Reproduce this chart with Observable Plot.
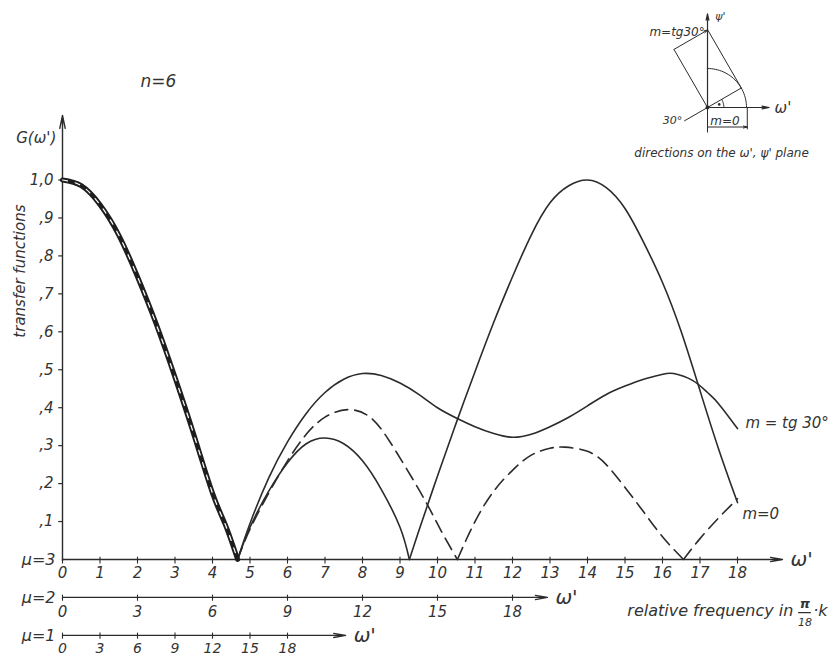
<!DOCTYPE html>
<html><head><meta charset="utf-8">
<script src="https://cdn.jsdelivr.net/npm/d3@7"></script>
<script src="https://cdn.jsdelivr.net/npm/@observablehq/plot@0.6"></script>
<style>
body{margin:0;background:#fff;}
#wrap{position:relative;width:835px;height:659px;overflow:hidden;background:#fff;}
#main,#inset{position:absolute;top:0;}
#main{left:0;}
#inset{left:600px;}
</style></head><body><div id="wrap"><div id="main"></div><div id="inset"></div></div>
<script>
// ---- data ----
// shared main lobe (all three transfer functions coincide here)
const mainW = [0, 0.5, 1, 1.5, 2, 2.5, 3, 3.5, 4, 4.35, 4.67];
const mainG = [1.0, 0.985, 0.935, 0.855, 0.745, 0.62, 0.48, 0.33, 0.175, 0.09, 0];
// m = 0 (solid)
const m0W = [4.67, 5.0, 5.5, 6.0, 6.5, 7.0, 7.5, 8.0, 8.5, 9.0, 9.25, 9.5, 10.0, 10.5, 11.0, 11.5, 12.0, 12.5, 13.0, 13.5, 14.0, 14.5, 15.0, 15.5, 16.0, 16.5, 17.0, 17.5, 18.0];
const m0G = [0, 0.085, 0.18, 0.255, 0.305, 0.32, 0.305, 0.26, 0.185, 0.085, 0, 0.075, 0.22, 0.36, 0.495, 0.625, 0.745, 0.855, 0.94, 0.985, 1.0, 0.98, 0.925, 0.835, 0.73, 0.6, 0.445, 0.29, 0.15];
// dashed curve
const dashW = [4.67, 5.0, 5.5, 6.0, 6.5, 7.0, 7.6, 8.2, 8.7, 9.2, 9.7, 10.1, 10.53, 11.0, 11.5, 12.0, 12.5, 13.0, 13.4, 14.0, 14.5, 15.0, 15.5, 16.0, 16.56, 17.0, 17.5, 18.0];
const dashG = [0, 0.08, 0.175, 0.26, 0.33, 0.375, 0.395, 0.375, 0.315, 0.235, 0.15, 0.075, 0, 0.1, 0.18, 0.235, 0.275, 0.293, 0.296, 0.285, 0.25, 0.19, 0.125, 0.06, 0, 0.055, 0.11, 0.16];
// m = tg 30° (solid)
const tgW = [4.67, 5.0, 5.5, 6.0, 6.5, 7.0, 7.5, 8.0, 8.5, 9.0, 9.5, 10.0, 10.5, 11.0, 11.5, 12.0, 12.5, 13.0, 13.5, 14.0, 14.5, 15.0, 15.5, 16.0, 16.3, 16.8, 17.2, 17.5, 18.0];
const tgG = [0, 0.095, 0.215, 0.31, 0.385, 0.44, 0.475, 0.49, 0.485, 0.465, 0.435, 0.40, 0.373, 0.35, 0.332, 0.322, 0.33, 0.35, 0.375, 0.405, 0.435, 0.457, 0.475, 0.488, 0.49, 0.472, 0.44, 0.41, 0.345];

// axes / tick labels
const yTicks = [0.1, 0.2, 0.3, 0.4, 0.5, 0.6, 0.7, 0.8, 0.9, 1.0];
const yTickLabels = [",1", ",2", ",3", ",4", ",5", ",6", ",7", ",8", ",9", "1,0"];
const mu3Ticks = [0,1,2,3,4,5,6,7,8,9,10,11,12,13,14,15,16,17,18];
const mu2Ticks = [0,3,6,9,12,15,18];
const mu1Ticks = [0,3,6,9,12,15,18];
const muLabels = ["μ=3", "μ=2", "μ=1"];
const muValues = [3, 2, 1];

// split a curve into lobes at its zeros, so each lobe is smooth and zeros stay sharp
function lobes(W, G) {
  const out = []; let seg = 0;
  W.forEach((w, i) => {
    out.push({w, G: G[i], seg});
    if (G[i] === 0 && i > 0 && i < W.length - 1) { seg++; out.push({w, G: G[i], seg}); }
  });
  return out;
}
const mainLobe = lobes(mainW, mainG);
const m0 = lobes(m0W, m0G);
const dashed = lobes(dashW, dashG);
const tg = lobes(tgW, tgG);

const INK = "#2b2b2b";
const FONT = "DejaVu Sans";
const txt = {fontFamily: FONT, fontStyle: "italic", fill: "#333", fontSize: 15};

// rows of the three frequency axes (below the plot in G units)
const rowY = mu => (mu - 3) * 0.1;
const axEnd = {3: 19.2, 2: 12.93, 1: 7.55};

const main = Plot.plot({
  width: 835, height: 659,
  marginLeft: 62, marginRight: 53, marginTop: 115, marginBottom: 100,
  x: {domain: [0, 19.2], axis: null},
  y: {domain: [0, 1.17], axis: null},
  style: {background: "#fff", overflow: "visible"},
  marks: [
    // vertical axis
    Plot.arrow([0], {x1: 0, x2: 0, y1: -0.003, y2: 1.17, stroke: INK, strokeWidth: 1.4, headLength: 14, headAngle: 24}),
    Plot.ruleY(yTicks, {x1: -0.1, x2: 0, stroke: INK, strokeWidth: 1.2}),
    Plot.text(yTicks, {x: 0, y: d => d, text: (d, i) => yTickLabels[i], dx: -9, textAnchor: "end", ...txt}),
    Plot.text(["G(ω')"], {x: -0.7, y: 1.11, ...txt, fontSize: 15}),
    Plot.text(["transfer functions"], {x: -1.12, y: 0.76, rotate: -90, ...txt, fontSize: 15}),
    Plot.text(["n=6"], {x: 2.56, y: 1.26, ...txt, fontSize: 17}),
    // horizontal frequency axes
    Plot.arrow(muValues, {x1: 0, x2: d => axEnd[d], y1: rowY, y2: rowY, stroke: INK, strokeWidth: 1.3, headLength: 14, headAngle: 20}),
    Plot.text(muValues, {x: 0, y: rowY, text: (d, i) => muLabels[i], dx: -7, textAnchor: "end", ...txt, fontSize: 16}),
    Plot.text(muValues, {x: d => axEnd[d], y: rowY, text: () => "ω'", dx: 8, textAnchor: "start", ...txt, fontSize: 20}),
    Plot.ruleX(mu3Ticks, {x: d => d, y1: -0.012, y2: 0.006, stroke: INK, strokeWidth: 1.1}),
    Plot.text(mu3Ticks, {x: d => d, y: 0, dy: 14, text: d => String(d), ...txt}),
    Plot.ruleX(mu2Ticks, {x: d => d * 2 / 3, y1: rowY(2) - 0.01, y2: rowY(2) + 0.006, stroke: INK, strokeWidth: 1.1}),
    Plot.text(mu2Ticks, {x: d => d * 2 / 3, y: rowY(2), dy: 15, text: d => String(d), ...txt}),
    Plot.ruleX(mu1Ticks, {x: d => d / 3, y1: rowY(1) - 0.01, y2: rowY(1) + 0.006, stroke: INK, strokeWidth: 1.1}),
    Plot.text(mu1Ticks, {x: d => d / 3, y: rowY(1), dy: 13, text: d => String(d), ...txt, fontSize: 14}),
    // axis title
    Plot.text(["relative frequency in"], {x: 19.49, y: -0.135, textAnchor: "end", ...txt, fontSize: 16}),
    Plot.text(["π"], {x: 19.8, y: -0.118, ...txt, fontSize: 13, fontWeight: "bold"}),
    Plot.ruleY([-0.14], {x1: 19.63, x2: 19.97, stroke: INK, strokeWidth: 1.2}),
    Plot.text(["18"], {x: 19.8, y: -0.165, ...txt, fontSize: 11}),
    Plot.text(["·k"], {x: 20.02, y: -0.135, textAnchor: "start", ...txt, fontSize: 16}),
    // curves
    Plot.line(m0, {x: "w", y: "G", z: "seg", stroke: INK, strokeWidth: 1.6, curve: "natural"}),
    Plot.line(tg, {x: "w", y: "G", z: "seg", stroke: INK, strokeWidth: 1.6, curve: "natural"}),
    Plot.line(dashed, {x: "w", y: "G", z: "seg", stroke: INK, strokeWidth: 1.6, strokeDasharray: "13,7", curve: "natural"}),
    Plot.line(mainLobe, {x: "w", y: "G", z: "seg", stroke: "#1e1e1e", strokeWidth: 5, curve: "natural"}),
    Plot.line(mainLobe, {x: "w", y: "G", z: "seg", stroke: "#fff", strokeWidth: 1.2, strokeDasharray: "5,8", curve: "natural"}),
    // curve labels
    Plot.text(["m = tg 30°"], {x: 18.21, y: 0.36, textAnchor: "start", ...txt, fontSize: 15}),
    Plot.text(["m=0"], {x: 18.13, y: 0.12, textAnchor: "start", ...txt, fontSize: 15})
  ]
});
document.getElementById("main").appendChild(main);

// ---- inset: directions on the ω', ψ' plane (unit = arc radius) ----
const angle = 30 * Math.PI / 180;
const c = Math.cos(angle), s = Math.sin(angle), L = 1.72;
const A = [c, s], C = [-s * L, c * L], B = [A[0] + C[0], A[1] + C[1]];
const arcPts = d3.range(0, 91, 3).map(a => ({x: Math.cos(a * Math.PI / 180), y: Math.sin(a * Math.PI / 180)}));
const smallArc = d3.range(0, 31, 3).map(a => ({x: 0.42 * Math.cos(a * Math.PI / 180), y: 0.42 * Math.sin(a * Math.PI / 180)}));
const segs = [
  {x1: -0.69 * c, y1: -0.69 * s, x2: A[0], y2: A[1]},
  {x1: A[0], y1: A[1], x2: B[0], y2: B[1]},
  {x1: 0, y1: 0, x2: C[0], y2: C[1]},
  {x1: 0, y1: -0.64, x2: 0, y2: 0},
  {x1: 1.02, y1: 0, x2: 1.02, y2: -0.56}
];
const inset = Plot.plot({
  width: 235, height: 170, margin: 0,
  x: {domain: [-2.744, 3.282], axis: null},
  y: {domain: [-1.615, 2.744], axis: null},
  style: {background: "transparent", overflow: "visible"},
  marks: [
    Plot.link(segs, {x1: "x1", y1: "y1", x2: "x2", y2: "y2", stroke: INK, strokeWidth: 1}),
    Plot.arrow([0], {x1: 0, y1: 0, x2: 0, y2: 2.4, stroke: INK, strokeWidth: 1.2, headLength: 8, headAngle: 25}),
    Plot.arrow([0], {x1: 0, y1: 0, x2: 1.58, y2: 0, stroke: INK, strokeWidth: 1.2, headLength: 9, headAngle: 22}),
    Plot.arrow([0], {x1: C[0], y1: C[1], x2: B[0], y2: B[1], stroke: INK, strokeWidth: 1, headLength: 6, headAngle: 30}),
    Plot.arrow([0], {x1: 0, y1: -0.5, x2: 1.02, y2: -0.5, stroke: INK, strokeWidth: 1, headLength: 6, headAngle: 30}),
    Plot.line(arcPts, {x: "x", y: "y", stroke: INK, strokeWidth: 1}),
    Plot.line(smallArc, {x: "x", y: "y", stroke: INK, strokeWidth: 1}),
    Plot.dot([0], {x: 0.3, y: 0.08, r: 1.3, fill: INK}),
    Plot.dot([0], {x: 0, y: 0, r: 2, fill: INK}),
    Plot.text(["ψ'"], {x: 0.33, y: 2.33, ...txt, fontSize: 11}),
    Plot.text(["ω'"], {x: 1.72, y: -0.02, textAnchor: "start", ...txt, fontSize: 15}),
    Plot.text(["m=tg30°"], {x: -0.78, y: 1.92, ...txt, fontSize: 12}),
    Plot.text(["30°"], {x: -0.9, y: -0.33, ...txt, fontSize: 11}),
    Plot.text(["m=0"], {x: 0.45, y: -0.36, ...txt, fontSize: 12}),
    Plot.text(["directions on the ω', ψ' plane"], {x: 0.36, y: -1.18, ...txt, fontSize: 12})
  ]
});
document.getElementById("inset").appendChild(inset);
</script>
</body></html>
